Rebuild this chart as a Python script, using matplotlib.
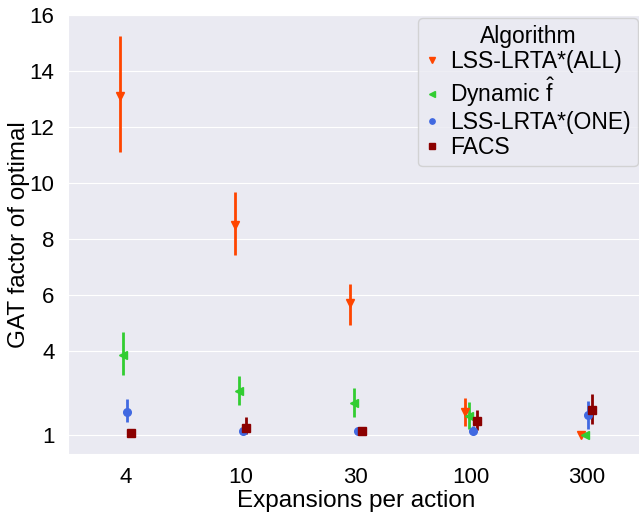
import matplotlib
matplotlib.use("Agg")
import matplotlib.pyplot as plt
import seaborn as sns
import numpy as np

# --- data ---
expansions = ["4", "10", "30", "100", "300"]
algorithms = ["LSS-LRTA*(ALL)", r"Dynamic $\hat{\mathrm{f}}$", "LSS-LRTA*(ONE)", "FACS"]
colors = ["#ff4500", "#32cd32", "#4169e1", "#8b0000"]
markers = ["v", "<", "o", "s"]

# mean GAT factor of optimal, and lower / upper ends of the error bars
all_mean = [13.1, 8.5, 5.71, 1.83, 1.01]
all_lo = [11.1, 7.44, 4.94, 1.35, 1.0]
all_hi = [15.25, 9.69, 6.39, 2.32, 1.02]

dyn_mean = [3.86, 2.58, 2.14, 1.69, 1.0]
dyn_lo = [3.17, 2.08, 1.66, 1.23, 0.99]
dyn_hi = [4.67, 3.1, 2.68, 2.19, 1.01]

one_mean = [1.85, 1.15, 1.14, 1.16, 1.71]
one_lo = [1.46, 1.1, 1.1, 1.08, 1.22]
one_hi = [2.3, 1.2, 1.18, 1.35, 2.24]

facs_mean = [1.09, 1.25, 1.14, 1.52, 1.92]
facs_lo = [1.07, 1.04, 1.05, 1.18, 1.41]
facs_hi = [1.11, 1.65, 1.22, 1.92, 2.49]

y_ticks = [1, 4, 6, 8, 10, 12, 14, 16]

series = [
    (all_mean, all_lo, all_hi),
    (dyn_mean, dyn_lo, dyn_hi),
    (one_mean, one_lo, one_hi),
    (facs_mean, facs_lo, facs_hi),
]

sns.set_style("darkgrid")
plt.rcParams["font.family"] = ["Liberation Sans", "DejaVu Sans"]
plt.rcParams["mathtext.fontset"] = "custom"
plt.rcParams["mathtext.rm"] = "Liberation Sans"
plt.rcParams["text.color"] = "black"
plt.rcParams["axes.labelcolor"] = "black"
plt.rcParams["xtick.color"] = "black"
plt.rcParams["ytick.color"] = "black"

fig = plt.figure(figsize=(6.39, 5.12), dpi=100)
ax = fig.add_axes([0.106, 0.113, 0.902, 0.858])

x = np.arange(len(expansions))
offsets = np.linspace(-0.05, 0.05, len(algorithms))

for i, (mean, lo, hi) in enumerate(series):
    mean = np.array(mean)
    yerr = [mean - np.array(lo), np.array(hi) - mean]
    ax.errorbar(x + offsets[i], mean, yerr=yerr, fmt=markers[i], color=colors[i],
                ecolor=colors[i], elinewidth=2, markersize=5.5, label=algorithms[i])

ax.set_xticks(x)
ax.set_xticklabels(expansions)
ax.set_xlim(-0.5, len(expansions) - 0.5)
ax.set_yticks(y_ticks)
ax.set_ylim(0.33, 16)
ax.xaxis.grid(False)
ax.tick_params(labelsize=16)
ax.tick_params(axis="x", pad=6)
ax.tick_params(axis="y", pad=6)
ax.set_xlabel("Expansions per action", fontsize=17.5, labelpad=1)
ax.set_ylabel("GAT factor of optimal", fontsize=17.5, labelpad=0)

handles, labels = ax.get_legend_handles_labels()
handles = [h[0] for h in handles]
leg = ax.legend(handles, labels, title="Algorithm", fontsize=16.5, title_fontsize=16.5,
                loc="upper right", bbox_to_anchor=(638 / 639, 1 - 18 / 512),
                bbox_transform=fig.transFigure, borderaxespad=0, markerscale=0.7,
                handlelength=0.6, handletextpad=0.5, labelspacing=0.1,
                borderpad=0.3, frameon=True)

fig.savefig("out.png", dpi=100)
